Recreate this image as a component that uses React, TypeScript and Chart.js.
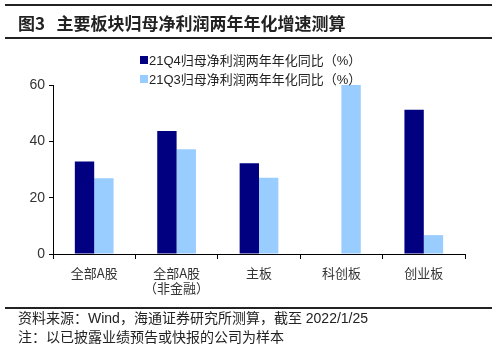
import React, { useEffect, useRef } from "react";
import { Chart, registerables } from "chart.js";

Chart.register(...registerables);

const categories: (string | string[])[] = ["全部A股", ["全部A股", "（非金融）"], "主板", "科创板", "创业板"];
const q4Values: (number | null)[] = [32.8, 43.7, 32.2, null, 51.2];
const q3Values: number[] = [26.9, 37.2, 27.1, 60, 6.7];
const seriesLabels = ["21Q4归母净利润两年年化同比（%）", "21Q3归母净利润两年年化同比（%）"];
const yTicks = [0, 20, 40, 60];

const CJK = "'Noto Sans CJK SC', sans-serif";
const LAT = "'Liberation Sans', 'Noto Sans CJK SC', sans-serif";

const legendPlugin = {
  id: "customLegend",
  afterDraw(chart: any) {
    const ctx = chart.ctx;
    ctx.save();
    chart.data.datasets.forEach((ds: any, i: number) => {
      const cy = 60 + i * 19;
      ctx.fillStyle = ds.backgroundColor;
      ctx.fillRect(140, cy - 4, 8, 8);
      ctx.fillStyle = "#222";
      ctx.font = "13px " + LAT;
      ctx.textBaseline = "middle";
      ctx.textAlign = "left";
      ctx.fillText(ds.label, 149, cy + 1);
    });
    ctx.restore();
  },
};

export default function App() {
  const ref = useRef<HTMLCanvasElement | null>(null);
  useEffect(() => {
    if (!ref.current) return;
    const chart = new Chart(ref.current, {
      type: "bar",
      data: {
        labels: categories as any,
        datasets: [
          { label: seriesLabels[0], data: q4Values, backgroundColor: "#000080" },
          { label: seriesLabels[1], data: q3Values, backgroundColor: "#99CCFF" },
        ],
      },
      options: {
        responsive: false,
        animation: false,
        layout: { padding: { top: 85, left: 0, right: 32, bottom: 0 } },
        plugins: { legend: { display: false }, tooltip: { enabled: false } },
        datasets: { bar: { categoryPercentage: 0.47, barPercentage: 1 } },
        scales: {
          x: {
            afterFit: (s: any) => { s.height = 97; },
            grid: { display: true, drawOnChartArea: false, drawTicks: true, tickLength: 5, color: "#000", offset: true },
            border: { color: "#000", width: 1 },
            ticks: { color: "#333", font: { family: CJK, size: 13 }, padding: 6 },
          },
          y: {
            min: 0,
            max: 60,
            afterFit: (s: any) => { s.width = 53; },
            afterBuildTicks: (s: any) => { s.ticks = yTicks.map((v) => ({ value: v })); },
            grid: { display: true, drawOnChartArea: false, drawTicks: true, tickLength: 4, color: "#000" },
            border: { color: "#000", width: 1 },
            ticks: { color: "#333", font: { family: LAT, size: 14 }, padding: 4 },
          },
        },
      },
      plugins: [legendPlugin],
    });
    return () => chart.destroy();
  }, []);

  const line = (top: number) => (
    <div style={{ position: "absolute", left: 5, width: 487, top, height: 1.5, background: "#222" }} />
  );

  return (
    <div style={{ position: "fixed", left: 0, top: 0, width: 497, height: 351, background: "#fff", overflow: "hidden" }}>
      <canvas ref={ref} width={497} height={351} style={{ position: "absolute", left: 0, top: 0 }} />
      {line(4)}
      {line(37)}
      {line(307)}
      <div style={{ position: "absolute", left: 18, top: 12, fontFamily: CJK, fontWeight: 700, fontSize: 17, color: "#222", whiteSpace: "nowrap", lineHeight: "22px" }}>
        图3&nbsp;&nbsp;&nbsp;主要板块归母净利润两年年化增速测算
      </div>
      <div style={{ position: "absolute", left: 18, top: 309, fontFamily: LAT, fontSize: 14, color: "#222", whiteSpace: "nowrap", lineHeight: "18px" }}>
        资料来源：Wind，海通证券研究所测算，截至 2022/1/25
      </div>
      <div style={{ position: "absolute", left: 18, top: 327, fontFamily: CJK, fontSize: 14, color: "#222", whiteSpace: "nowrap", lineHeight: "18px" }}>
        注：以已披露业绩预告或快报的公司为样本
      </div>
    </div>
  );
}
